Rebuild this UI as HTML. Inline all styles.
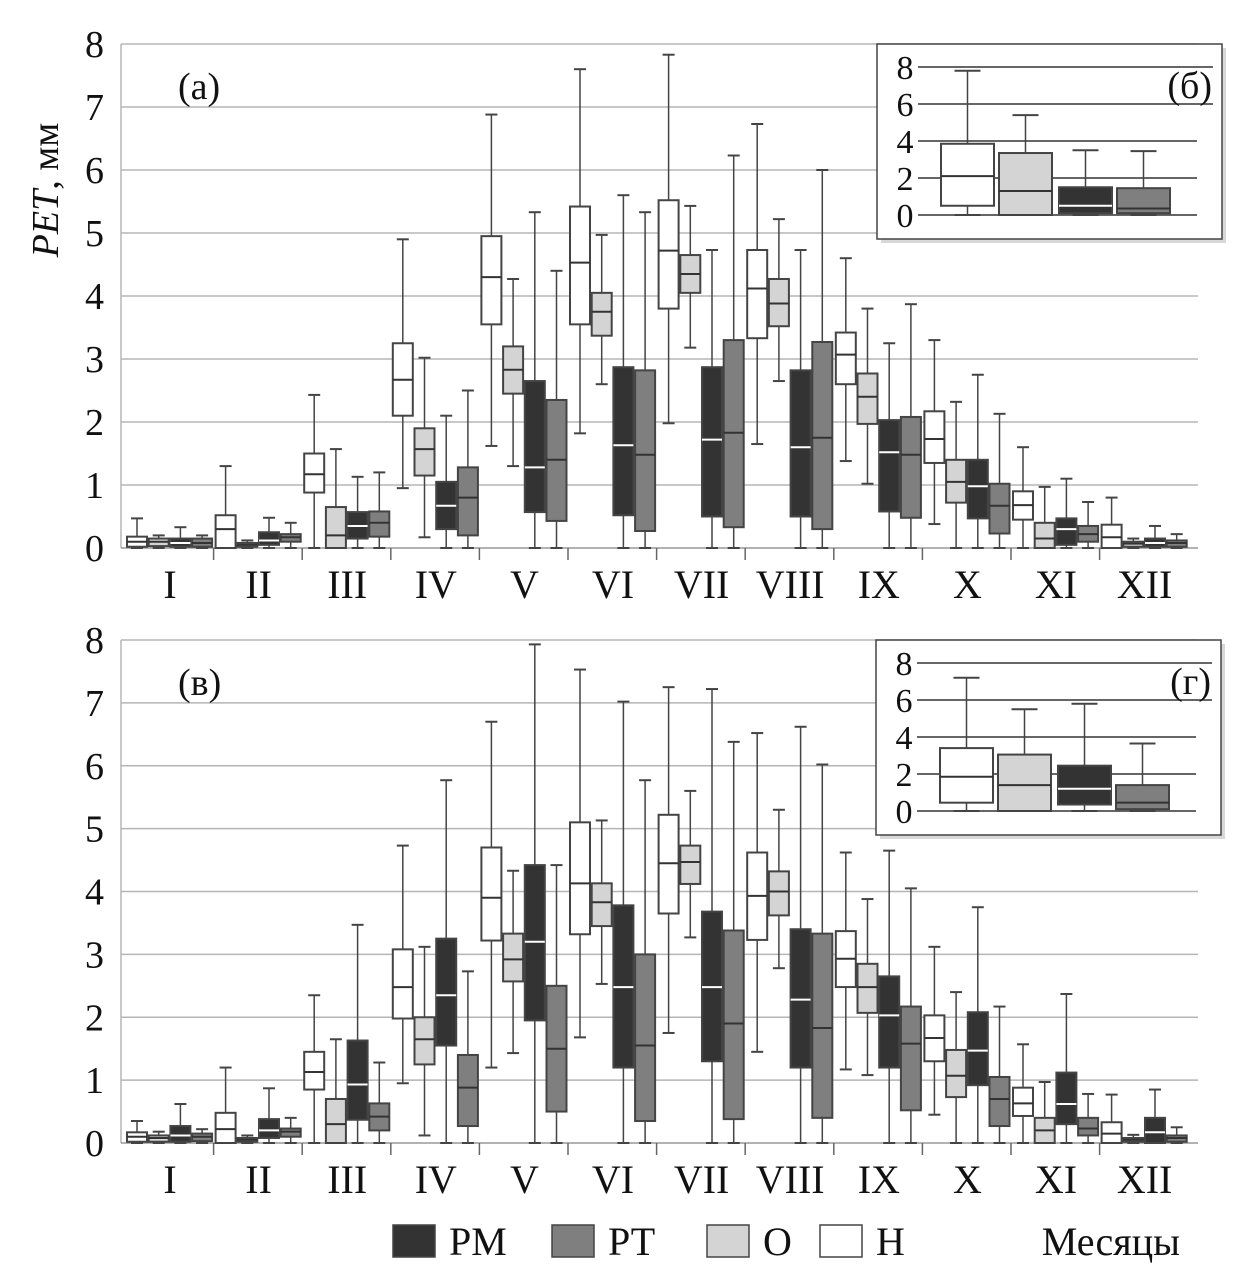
<!DOCTYPE html>
<html><head><meta charset="utf-8"><style>
body{margin:0;background:#fff;}
svg{display:block;}
svg text{font-family:"Liberation Serif","DejaVu Serif",serif;}
</style></head><body>
<svg id="c" width="1246" height="1287" viewBox="0 0 1246 1287" font-family="Liberation Serif, serif"></svg>
<script>
// [min,q1,median,q3,max] per month, series H, O, PM, PT
const months=["I","II","III","IV","V","VI","VII","VIII","IX","X","XI","XII"];
const ticksMain=[0,1,2,3,4,5,6,7,8];
const ticksInset=[0,2,4,6,8];
const aH=[[0,0.02,0.1,0.18,0.47],[0,0,0.3,0.52,1.3],[0,0.88,1.17,1.5,2.43],[0.95,2.1,2.67,3.25,4.9],[1.62,3.55,4.3,4.95,6.88],[1.82,3.55,4.53,5.42,7.6],[1.98,3.8,4.72,5.52,7.83],[1.65,3.33,4.12,4.73,6.73],[1.38,2.6,3.07,3.42,4.6],[0.38,1.35,1.73,2.17,3.3],[0,0.45,0.68,0.9,1.6],[0,0,0.17,0.37,0.8]];
const aO=[[0,0.03,0.1,0.15,0.2],[0,0.02,0.05,0.08,0.12],[0,0,0.2,0.65,1.57],[0.17,1.15,1.57,1.9,3.02],[1.3,2.45,2.83,3.2,4.27],[2.6,3.37,3.75,4.05,4.97],[3.18,4.05,4.35,4.65,5.43],[2.65,3.52,3.88,4.27,5.22],[1.02,1.97,2.4,2.77,3.8],[0,0.72,1.05,1.4,2.32],[0,0,0.15,0.4,0.97],[0,0.02,0.07,0.1,0.15]];
const aPM=[[0,0.02,0.08,0.15,0.33],[0,0.05,0.12,0.25,0.48],[0,0.15,0.35,0.57,1.13],[0,0.3,0.67,1.05,2.1],[0,0.57,1.28,2.65,5.33],[0,0.52,1.63,2.87,5.6],[0,0.5,1.72,2.87,4.73],[0,0.5,1.6,2.82,4.73],[0,0.58,1.52,2.03,3.25],[0,0.47,0.98,1.4,2.75],[0,0.05,0.3,0.47,1.1],[0,0.02,0.08,0.15,0.35]];
const aPT=[[0,0.02,0.08,0.15,0.2],[0,0.1,0.17,0.22,0.4],[0,0.18,0.4,0.58,1.2],[0,0.2,0.8,1.28,2.5],[0,0.43,1.4,2.35,4.4],[0,0.27,1.48,2.82,5.33],[0,0.33,1.83,3.3,6.23],[0,0.3,1.75,3.27,6.0],[0,0.48,1.48,2.08,3.87],[0,0.23,0.67,1.02,2.13],[0,0.1,0.22,0.35,0.73],[0,0.02,0.08,0.12,0.22]];
const bH=[[0,0.02,0.1,0.17,0.35],[0,0,0.22,0.48,1.2],[0,0.85,1.13,1.45,2.35],[0.95,1.98,2.48,3.08,4.73],[1.2,3.22,3.9,4.7,6.7],[1.68,3.32,4.13,5.1,7.53],[1.75,3.65,4.45,5.22,7.25],[1.45,3.23,3.93,4.62,6.52],[1.17,2.48,2.93,3.37,4.62],[0.45,1.3,1.67,2.03,3.12],[0,0.43,0.63,0.88,1.57],[0,0,0.15,0.33,0.77]];
const bO=[[0,0.02,0.08,0.12,0.18],[0,0.02,0.05,0.08,0.12],[0,0,0.3,0.7,1.65],[0.12,1.25,1.65,2.0,3.12],[1.43,2.57,2.92,3.33,4.33],[2.53,3.45,3.83,4.13,5.13],[3.27,4.12,4.47,4.73,5.6],[2.78,3.62,4.0,4.32,5.3],[1.08,2.07,2.48,2.85,3.88],[0,0.73,1.07,1.48,2.4],[0,0,0.2,0.4,0.97],[0,0.02,0.05,0.08,0.13]];
const bPM=[[0,0.02,0.12,0.27,0.62],[0,0.08,0.2,0.38,0.87],[0,0.37,0.93,1.63,3.47],[0,1.55,2.35,3.25,5.77],[0,1.95,3.2,4.42,7.93],[0,1.2,2.48,3.78,7.02],[0,1.3,2.48,3.68,7.22],[0,1.2,2.28,3.4,6.62],[0,1.2,2.03,2.65,4.65],[0,0.92,1.47,2.08,3.75],[0,0.3,0.62,1.12,2.37],[0,0,0.17,0.4,0.85]];
const bPT=[[0,0.03,0.1,0.15,0.22],[0,0.1,0.18,0.23,0.4],[0,0.2,0.42,0.63,1.28],[0,0.27,0.88,1.4,2.73],[0,0.5,1.5,2.5,4.42],[0,0.35,1.55,3.0,5.77],[0,0.38,1.9,3.38,6.38],[0,0.4,1.83,3.33,6.02],[0,0.52,1.58,2.17,4.05],[0,0.27,0.7,1.05,2.17],[0,0.12,0.23,0.4,0.78],[0,0.02,0.08,0.12,0.25]];
const insB=[[0,0.5,2.1,3.85,7.8],[0,0,1.3,3.35,5.4],[0,0.1,0.5,1.5,3.5],[0,0.1,0.35,1.45,3.45]];
const insG=[[0,0.45,1.85,3.4,7.2],[0,0,1.4,3.05,5.5],[0,0.35,1.2,2.45,5.8],[0,0.1,0.45,1.4,3.65]];
const legNames=["РМ","РТ","О","Н"];

const fills=["#ffffff","#d4d4d4","#333333","#7f7f7f"];
const legFills=["#333333","#7f7f7f","#d4d4d4","#ffffff"];
const medC=["#333","#333","#fff","#333"];
const svg=document.getElementById('c');
const NS="http://www.w3.org/2000/svg";
const FF="Liberation Serif, serif";
function el(t,a,p){const e=document.createElementNS(NS,t);for(const k in a)e.setAttribute(k,a[k]);if(t==='text')e.setAttribute('font-family',FF);(p||svg).appendChild(e);return e;}

function drawBox(g,d,x,w,y,si,cap){
  const [mn,q1,md,q3,mx]=d;
  let l=el('line',{x1:x+w/2,x2:x+w/2,y1:y(mx),y2:y(q3),stroke:'#444','stroke-width':1.5},g);
  
  l=el('line',{x1:x+w/2,x2:x+w/2,y1:y(q1),y2:y(mn),stroke:'#444','stroke-width':1.5},g);
  
  el('line',{x1:x+w/2-cap,x2:x+w/2+cap,y1:y(mx),y2:y(mx),stroke:'#444','stroke-width':2},g);
  el('line',{x1:x+w/2-cap,x2:x+w/2+cap,y1:y(mn),y2:y(mn),stroke:'#444','stroke-width':2},g);
  const r=el('rect',{x:x,y:y(q3),width:w,height:Math.max(1,y(q1)-y(q3)),fill:fills[si],stroke:'#444','stroke-width':2},g);
  
  el('line',{x1:x,x2:x+w,y1:y(md),y2:y(md),stroke:medC[si],'stroke-width':2},g);
}

function panel(top,zeroY,series,label,name){
  const unit=(zeroY-top)/8;
  const y=v=>zeroY-v*unit;
  const g=el('g',{});
  ticksMain.forEach(t=>{
    if(t>0){const gl=el('line',{x1:121,x2:1198,y1:y(t),y2:y(t),stroke:'#b5b5b5','stroke-width':1.5},g);
    }
    const tx=el('text',{x:104,y:y(t)+13,'text-anchor':'end','font-size':38,fill:'#111'},g);
    
    tx.textContent=t;
  });
  el('line',{x1:121,x2:121,y1:top,y2:zeroY,stroke:'#b5b5b5','stroke-width':1.5},g);
  el('line',{x1:121,x2:1198,y1:zeroY,y2:zeroY,stroke:'#999','stroke-width':1.5},g);
  const step=88.6, x0=127;
  months.forEach((m,i)=>{
    const gx=x0+i*step;
    if(i>0){el('line',{x1:gx-2,x2:gx-2,y1:zeroY,y2:zeroY+12,stroke:'#666','stroke-width':1.5},g);}
    series.forEach((s,si)=>drawBox(g,s[i],gx+si*21.7,20,y,si,6));
    const t=el('text',{x:gx+43,y:zeroY+50,'text-anchor':'middle','font-size':40,fill:'#111'},g);
    
    t.textContent=m;
  });
  const pl=el('text',{x:178,y:top+55,'font-size':38,fill:'#111'},g);
  
  pl.textContent=label;
}

function inset(bx,by,data,label,name){
  const g=el('g',{});
  el('rect',{x:bx+4,y:by+4,width:345,height:195,fill:'#c8c8c8',opacity:0.7},g);
  el('rect',{x:bx,y:by,width:345,height:195,fill:'#fff',stroke:'#444','stroke-width':1.5},g);
  const top=by+23, zero=by+171, unit=(zero-top)/8;
  const y=v=>zero-v*unit;
  ticksInset.forEach(t=>{
    el('line',{x1:bx+41,x2:t>=6?bx+336:bx+320,y1:y(t),y2:y(t),stroke:'#333','stroke-width':1.5},g);
    const tx=el('text',{x:bx+28,y:y(t)+12,'text-anchor':'middle','font-size':34,fill:'#111'},g);
    
    tx.textContent=t;
  });
  const xs=[64,122,182,240];
  data.forEach((d,si)=>drawBox(g,d,bx+xs[si],53,y,si,13));
  const pl=el('text',{x:bx+335,y:by+54,'text-anchor':'end','font-size':38,fill:'#111'},g);
  
  pl.textContent=label;
}

panel(44,548,[aH,aO,aPM,aPT],"(а)","panel-a");
panel(640,1143,[bH,bO,bPM,bPT],"(в)","panel-v");
inset(877,44,insB,"(б)","inset-b");
inset(876,640,insG,"(г)","inset-g");

const yt=el('text',{transform:'translate(58,190) rotate(-90)','text-anchor':'middle','font-size':38,fill:'#111'});

const ti=el('tspan',{'font-style':'italic'},yt);ti.textContent="PET";
const t2=el('tspan',{},yt);t2.textContent=", мм";

const legX=[393,552,707,820];
legNames.forEach((n,i)=>{
  const lg=el('g',{});
  el('rect',{x:legX[i],y:1225,width:42,height:32,fill:legFills[i],stroke:'#444','stroke-width':1.5},lg);
  const t=el('text',{x:legX[i]+56,y:1255,'font-size':40,fill:'#111'},lg);t.textContent=n;
});
const xt=el('text',{x:1180,y:1255,'text-anchor':'end','font-size':40,fill:'#111'});

xt.textContent="Месяцы";
</script>
</body></html>
